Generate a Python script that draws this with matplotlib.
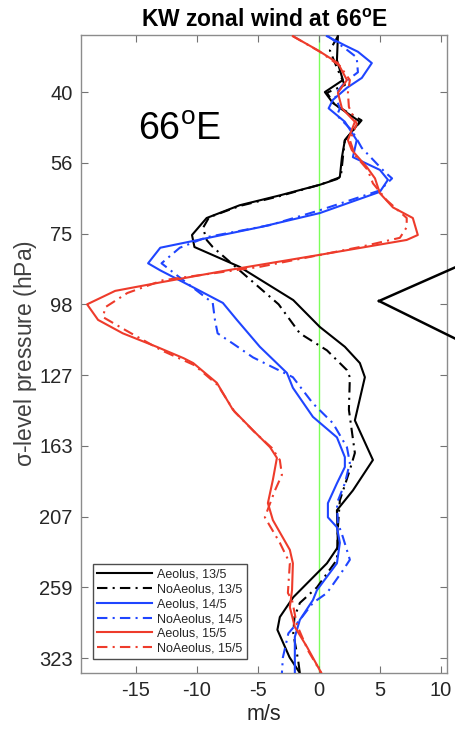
import matplotlib
matplotlib.use("Agg")
import matplotlib.pyplot as plt
from matplotlib.lines import Line2D

plt.rcParams['font.family'] = ['Liberation Sans', 'DejaVu Sans']
plt.rcParams['mathtext.default'] = 'regular'

# y axis: sigma-level index (0..8 at tick labels)
ytick_labels = ['40', '56', '75', '98', '127', '163', '207', '259', '323']
xticks = [-15, -10, -5, 0, 5, 10]

# Aeolus 13/5 (black solid)
lev_a13 = [-0.79, -0.45, -0.17, 0.00, 0.155, 0.42, 0.68, 0.92, 1.20, 1.23, 1.31, 1.46, 1.60, 1.78, 2.02,
           2.19, 2.47, 2.94, 3.32, 3.60, 3.83, 4.03, 4.64, 5.20, 5.63, 5.91, 6.43, 6.66, 7.14, 7.42,
           7.60, 7.99, 8.21]
u_a13 = [1.56, 1.48, 1.97, 0.49, 1.15, 3.36, 2.13, 1.89, 1.72, 1.48, 0.08, -3.2, -6.5, -9.2, -10.4,
         -10.2, -6.5, -2.1, 0.08, 2.13, 3.36, 3.77, 2.95, 4.43, 2.79, 1.48, 1.56, 0.66, -2.1, -3.2,
         -3.4, -2.4, -1.56]

# NoAeolus 13/5 (black dash-dot)
lev_n13 = [-0.79, -0.59, -0.31, -0.10, 0.01, 0.18, 0.40, 0.68, 0.92, 1.20, 1.31, 1.47, 1.61, 1.77, 1.92,
           2.09, 2.19, 2.52, 3.00, 3.41, 3.65, 3.93, 4.03, 4.49, 5.10, 5.34, 5.77, 6.15, 6.61, 7.00,
           7.22, 7.42, 7.65, 8.03, 8.21]
u_n13 = [1.56, 0.9, 1.56, 2.13, 0.66, 1.3, 3.5, 2.13, 1.97, 1.8, 0.08, -3.2, -6.5, -9.0, -9.5,
         -9.2, -8.7, -6.5, -3.3, -1.56, 0.66, 2.3, 2.54, 2.46, 2.95, 2.54, 1.72, 1.56, 1.48, -0.16,
         -1.56, -2.0, -2.1, -1.7, -1.56]

# Aeolus 14/5 (blue solid)
lev_a14 = [-0.79, -0.66, -0.57, -0.41, -0.20, -0.06, 0.11, 0.23, 0.42, 0.68, 0.92, 1.10, 1.24, 1.41,
           1.71, 1.91, 2.20, 2.42, 2.52, 2.76, 2.98, 3.22, 3.60, 3.97, 4.18, 4.59, 4.88, 5.16, 5.30,
           5.53, 5.81, 6.01, 6.15, 6.37, 6.66, 7.04, 7.18, 7.46, 7.70, 8.21]
u_a14 = [0.66, 2.13, 3.2, 4.34, 3.52, 2.3, 1.15, 0.8, 2.13, 3.1, 2.79, 5.0, 5.66, 5.0,
         0.08, -4.84, -13.0, -14.0, -13.0, -10.3, -7.87, -6.72, -4.84, -2.62, -2.13, -0.49, 1.48, 2.13, 2.13,
         1.48, 0.74, 0.74, 1.48, 1.72, 1.48, -0.16, -0.49, -1.56, -1.97, -1.97]

# NoAeolus 14/5 (blue dash-dot)
lev_n14 = [-0.79, -0.62, -0.49, -0.28, -0.14, 0.04, 0.23, 0.33, 0.54, 0.79, 1.13, 1.22, 1.39, 1.67,
           1.88, 2.05, 2.20, 2.42, 2.60, 2.98, 3.22, 3.41, 3.56, 3.75, 3.89, 4.03, 4.40, 4.68, 5.02,
           5.24, 5.53, 5.81, 6.09, 6.29, 6.61, 6.76, 7.08, 7.22, 7.46, 7.65, 7.99, 8.21]
u_n14 = [0.74, 2.13, 3.1, 3.2, 2.13, 1.31, 1.72, 1.48, 2.7, 3.52, 5.4, 6.0, 5.0, 0.08,
         -4.0, -9.18, -11.4, -12.9, -11.56, -8.7, -8.52, -8.3, -7.0, -5.4, -3.77, -2.13, -0.49, 1.15, 2.3,
         2.54, 2.13, 1.48, 1.56, 1.97, 2.54, 1.97, 0.66, -0.49, -1.56, -2.5, -2.95, -3.03]

# Aeolus 15/5 (red solid)
lev_a15 = [-0.79, -0.59, -0.41, -0.17, 0.01, 0.23, 0.42, 0.68, 0.82, 1.06, 1.22, 1.43, 1.63, 1.78,
           2.02, 2.09, 2.30, 2.52, 2.69, 2.81, 3.00, 3.22, 3.41, 3.60, 3.76, 3.83, 4.11, 4.49, 4.78,
           5.02, 5.17, 5.48, 5.81, 6.05, 6.47, 6.66, 7.04, 7.28, 7.56, 7.84, 8.21]
u_a15 = [-2.13, -0.08, 1.56, 2.3, 1.56, 1.89, 2.95, 2.38, 2.7, 3.93, 4.6, 5.0, 6.07, 7.7,
         8.11, 7.2, 0.08, -7.54, -13.0, -16.7, -19.0, -18.1, -16.07, -13.3, -11.1, -10.3, -8.36, -7.05, -5.4,
         -4.0, -3.44, -3.77, -4.18, -3.77, -2.38, -2.13, -2.2, -2.38, -1.97, -0.98, 0.2]

# NoAeolus 15/5 (red dash-dot)
lev_n15 = [-0.79, -0.57, -0.37, -0.17, 0.01, 0.21, 0.45, 0.68, 0.89, 1.10, 1.29, 1.53, 1.78, 1.91,
           2.06, 2.19, 2.47, 2.66, 2.84, 3.04, 3.18, 3.36, 3.65, 3.86, 4.14, 4.52, 4.81, 5.03, 5.20,
           5.41, 5.63, 6.01, 6.37, 6.66, 7.08, 7.18, 7.53, 7.89, 8.21]
u_n15 = [-2.13, 0.08, 1.72, 2.54, 2.38, 2.46, 3.11, 2.54, 2.95, 4.0, 4.43, 5.57, 7.2, 7.2,
         6.64, 3.36, -4.84, -12.8, -15.7, -17.5, -17.7, -15.9, -12.9, -10.2, -8.3, -6.9, -5.25, -3.85, -3.2,
         -3.03, -3.6, -4.43, -3.2, -2.38, -2.54, -2.2, -1.8, -0.9, 0.2]

dashdot = (0, (5, 2.5, 1, 2.5))
series = [
    ("Aeolus, 13/5", u_a13, lev_a13, '#000000', '-'),
    ("NoAeolus, 13/5", u_n13, lev_n13, '#000000', dashdot),
    ("Aeolus, 14/5", u_a14, lev_a14, '#1f45ff', '-'),
    ("NoAeolus, 14/5", u_n14, lev_n14, '#1f45ff', dashdot),
    ("Aeolus, 15/5", u_a15, lev_a15, '#ee3b2b', '-'),
    ("NoAeolus, 15/5", u_n15, lev_n15, '#ee3b2b', dashdot),
]

fig = plt.figure(figsize=(4.56, 7.33), dpi=100)
ax = fig.add_axes([0.1776, 0.0819, 0.8026, 0.8703])

ax.axvline(0, color='#7dff5a', lw=1.0, zorder=1)
for label, u, lev, col, ls in series:
    ax.plot(u, lev, color=col, ls=ls, lw=1.5, label=label, zorder=3)

ax.set_xlim(-19.5, 10.5)
ax.set_ylim(8.21, -0.806)
ax.set_xticks(xticks)
ax.set_xticklabels([str(v) for v in xticks])
ax.set_yticks(range(len(ytick_labels)))
ax.set_yticklabels(ytick_labels)

for s in ax.spines.values():
    s.set_color('0.55')
    s.set_linewidth(1.0)
ax.tick_params(direction='in', length=5, width=0.8, color='0.45', labelcolor='0.15',
               labelsize=14.5, top=True, right=True, pad=6)

ax.set_xlabel('m/s', fontsize=15.5, color='0.15', labelpad=3)
ax.set_ylabel(r'$\sigma$-level pressure (hPa)', fontsize=16.5, color='0.25', labelpad=0)
ax.set_title(r'KW zonal wind at 66$^{o}$E', fontsize=16.5, fontweight='bold', pad=6)

ax.text(0.155, 0.851, r'66$^{o}$E', transform=ax.transAxes, fontsize=27,
        ha='left', va='center', color='black')

leg = ax.legend(loc='lower left', bbox_to_anchor=(0.033, 0.022), borderaxespad=0,
                fontsize=9, handlelength=4.4, handletextpad=0.4, labelspacing=0.22,
                borderpad=0.35, fancybox=False, framealpha=1, edgecolor='0.3')
leg.get_frame().set_linewidth(1.0)
for t in leg.get_texts():
    t.set_color('0.15')

# callout triangle on the right
W, H = 456.0, 733.0
apex = (379 / W, 1 - 301 / H)
fig.add_artist(Line2D([apex[0], 1.0], [apex[1], 1 - 267 / H], color='black', lw=1.8,
                      transform=fig.transFigure))
fig.add_artist(Line2D([apex[0], 1.0], [apex[1], 1 - 339 / H], color='black', lw=1.8,
                      transform=fig.transFigure))

fig.savefig('out.png', dpi=100)
